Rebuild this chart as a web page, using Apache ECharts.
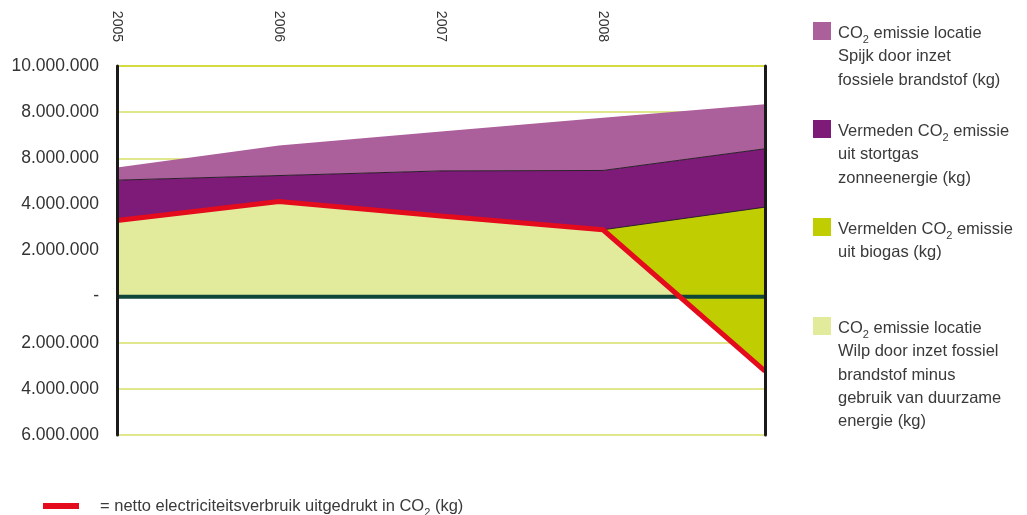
<!DOCTYPE html>
<html><head><meta charset="utf-8">
<script src="https://cdn.jsdelivr.net/npm/echarts@6/dist/echarts.min.js"></script>
<style>html,body{margin:0;padding:0;background:#fff}#c{width:1027px;height:515px}</style>
</head><body><div id="c"></div>
<script>
// ---- data ----
const years = ['2005', '2006', '2007', '2008', ''];
const wilp = [3300000, 4120000, 3500000, 2900000, -3230000];
const biogas = [0, 0, 0, 0, 7110000];
const stortgas = [1750000, 1130000, 1950000, 2570000, 2530000];
const spijk = [550000, 1300000, 1710000, 2290000, 1930000];
const netto = [3300000, 4120000, 3500000, 2900000, -3230000];
const zeroLine = [0, 0, 0, 0, 0];
const yTickValues = [-6000000, -4000000, -2000000, 0, 2000000, 4000000, 6000000, 8000000, 10000000];
const yTickLabels = ['6.000.000', '4.000.000', '2.000.000', '-', '2.000.000', '4.000.000', '8.000.000', '8.000.000', '10.000.000'];
const seriesNames = [
  'CO2 emissie locatie Wilp door inzet fossiel brandstof minus gebruik van duurzame energie (kg)',
  'Vermelden CO2 emissie uit biogas (kg)',
  'Vermeden CO2 emissie uit stortgas zonneenergie (kg)',
  'CO2 emissie locatie Spijk door inzet fossiele brandstof (kg)'
];
const nettoName = 'netto electriciteitsverbruik uitgedrukt in CO2 (kg)';
const legendTexts = [
  'CO{sub|2} emissie locatie\nSpijk door inzet\nfossiele brandstof (kg)',
  'Vermeden CO{sub|2} emissie\nuit stortgas\nzonneenergie (kg)',
  'Vermelden CO{sub|2} emissie\nuit biogas (kg)',
  'CO{sub|2} emissie locatie\nWilp door inzet fossiel\nbrandstof minus\ngebruik van duurzame\nenergie (kg)'
];
const bottomText = '= netto electriciteitsverbruik uitgedrukt in CO{sub|2} (kg)';

// ---- styles ----
const FONT = "'Liberation Sans', Arial, sans-serif";
const colWilp = '#e2ea9c', colBio = '#c0cd00', colStort = '#7e1b78', colSpijk = '#ab5f9b';
const legendColors = [colSpijk, colStort, colBio, colWilp];
const legendTops = [22, 120, 218, 317];

function area(name, data, color, edge) {
  return {
    type: 'line', name: name, data: data, stack: 'total', stackStrategy: 'all',
    symbol: 'none', silent: true, z: 2,
    lineStyle: edge ? { color: '#2a1f2a', width: 1 } : { width: 0, opacity: 0 },
    areaStyle: { color: color, opacity: 1 }
  };
}

const richSub = {
  sub: { fontSize: 11, fontFamily: FONT, fill: '#3a3a3a', lineHeight: 8, verticalAlign: 'bottom' }
};

const graphics = [];
legendTexts.forEach(function (t, i) {
  graphics.push({ type: 'rect', left: 813, top: legendTops[i], shape: { width: 18, height: 18 }, style: { fill: legendColors[i] } });
  graphics.push({ type: 'text', x: 838, y: legendTops[i], style: {
    text: t, font: '16.5px ' + FONT, fill: '#3a3a3a', lineHeight: 23.3, verticalAlign: 'top', rich: richSub } });
});
graphics.push({ type: 'rect', left: 43, top: 503, shape: { width: 36, height: 6 }, style: { fill: '#e30b1c' } });
graphics.push({ type: 'text', x: 100, y: 495, style: {
  text: bottomText, font: '16.5px ' + FONT, fill: '#3a3a3a', lineHeight: 23.3, verticalAlign: 'top', rich: richSub } });

const lineAxis = function (pos) {
  return {
    type: 'value', position: pos, min: -6000000, max: 10000000, interval: 2000000, z: 10,
    axisLine: { show: true, onZero: false, lineStyle: { color: '#1a1a1a', width: 3 } },
    axisTick: { show: false }, axisLabel: { show: false }, splitLine: { show: false }
  };
};

const chart = echarts.init(document.getElementById('c'), null, { renderer: 'canvas' });
chart.setOption({
  animation: false,
  backgroundColor: '#fff',
  grid: { left: 117, right: 262, top: 66, bottom: 80 },
  xAxis: {
    type: 'category', data: years, boundaryGap: false, position: 'top',
    axisLine: { show: false, onZero: false }, axisTick: { show: false },
    axisLabel: { rotate: 90, margin: 24, fontSize: 14, color: '#333', fontFamily: FONT, interval: 0 },
    splitLine: { show: false }
  },
  yAxis: [{
    type: 'value', position: 'left', min: -6000000, max: 10000000, interval: 2000000, z: 0,
    axisLine: { show: false, onZero: false },
    axisTick: { show: false },
    axisLabel: { margin: 18, fontSize: 17.5, color: '#333', fontFamily: FONT,
      formatter: function (v) { const i = yTickValues.indexOf(v); return i >= 0 ? yTickLabels[i] : ''; } },
    splitLine: { show: true, lineStyle: { width: 1.5, color: ['#d6df66', '#d6df66', '#d6df66', '#d6df66', '#d6df66', '#d6df66', '#d6df66', '#d6df66', '#c6cf00'] } }
  }, lineAxis('left'), lineAxis('right')],
  series: [
    area(seriesNames[0], wilp, colWilp, false),
    area(seriesNames[1], biogas, colBio, true),
    area(seriesNames[2], stortgas, colStort, true),
    area(seriesNames[3], spijk, colSpijk, false),
    { type: 'line', name: 'nul', data: zeroLine, symbol: 'none', silent: true, z: 3,
      lineStyle: { color: '#0f463a', width: 4 } },
    { type: 'line', name: nettoName, data: netto, symbol: 'none', silent: true, z: 4,
      lineStyle: { color: '#e30b1c', width: 5 } }
  ],
  graphic: graphics
});
</script>
</body></html>
